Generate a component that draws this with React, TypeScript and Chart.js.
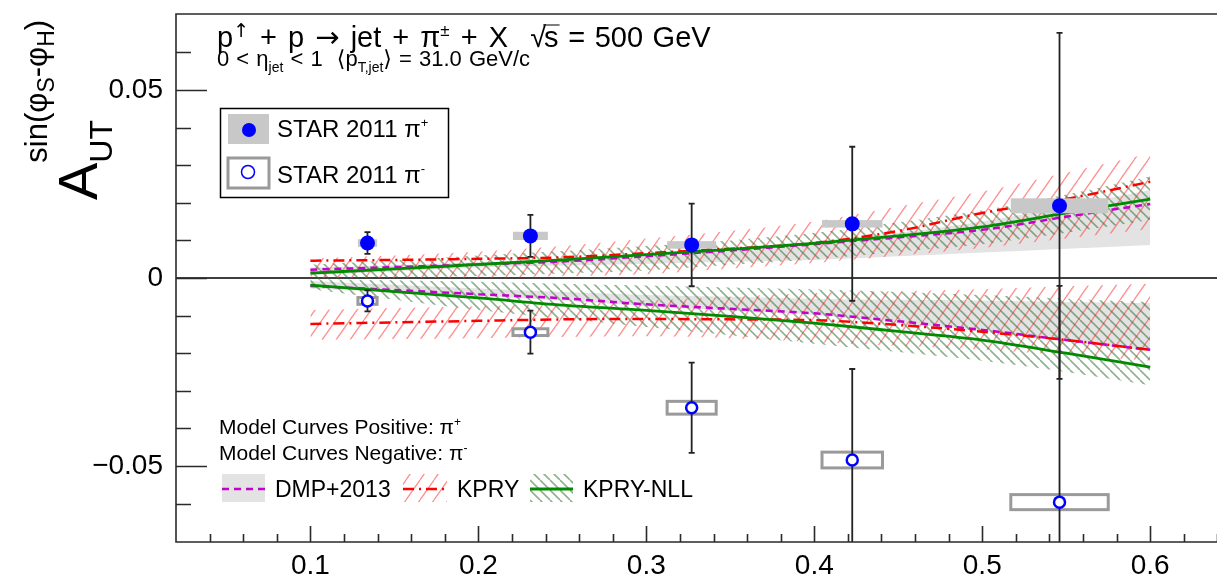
import React, { useEffect, useRef } from "react";
import { Chart, registerables } from "chart.js";

Chart.register(...registerables);

const FONT = '"Liberation Sans", "DejaVu Sans", Arial, sans-serif';
const SYM_FONT = '"DejaVu Sans", "Liberation Sans", sans-serif';

// axis ticks
const xTickValues = [0.1, 0.2, 0.3, 0.4, 0.5, 0.6];
const xTickLabels = ["0.1", "0.2", "0.3", "0.4", "0.5", "0.6"];
const yTickValues = [-0.05, 0, 0.05];
const yTickLabels = ["\u22120.05", "0", "0.05"];

// STAR 2011 data (z of pion in jet)
const zBins = [0.134, 0.231, 0.327, 0.4226, 0.546];
const zSysHalfWidth = [0.0057, 0.0104, 0.0146, 0.018, 0.029];
const piPlus = [0.0093, 0.0112, 0.0088, 0.0144, 0.0192];
const piPlusStat = [0.0029, 0.0056, 0.011, 0.0205, 0.046];
const piPlusSys = [0.0006, 0.0007, 0.0006, 0.0006, 0.0016];
const piMinus = [-0.0061, -0.0144, -0.0345, -0.0484, -0.0596];
const piMinusStat = [0.0028, 0.0057, 0.012, 0.0242, 0.0575];
const piMinusSys = [0.0009, 0.0009, 0.0017, 0.0021, 0.002];

// Model curves
const modelZ = [0.1, 0.15, 0.2, 0.25, 0.3, 0.35, 0.4, 0.45, 0.5, 0.55, 0.6];
const dmpPos = [0.0022, 0.0029, 0.0036, 0.0044, 0.0058, 0.0073, 0.009, 0.0108, 0.0128, 0.0163, 0.0197];
const dmpPosHi = [0.0028, 0.0034, 0.0042, 0.0052, 0.0065, 0.008, 0.0098, 0.012, 0.015, 0.019, 0.0234];
const dmpPosLo = [0.0008, 0.0018, 0.0028, 0.0033, 0.0038, 0.0043, 0.0048, 0.0058, 0.0068, 0.0078, 0.0088];
const dmpNeg = [-0.0021, -0.0032, -0.0043, -0.0054, -0.007, -0.0082, -0.0094, -0.0115, -0.0138, -0.0165, -0.0191];
const dmpNegHi = [-0.0008, -0.0018, -0.0028, -0.0037, -0.0045, -0.005, -0.0055, -0.0058, -0.006, -0.0064, -0.0067];
const dmpNegLo = [-0.0028, -0.0038, -0.0048, -0.006, -0.0075, -0.0087, -0.0098, -0.012, -0.0142, -0.0168, -0.0195];
const kpryPos = [0.0046, 0.0048, 0.0051, 0.0055, 0.0066, 0.0078, 0.0093, 0.0125, 0.0173, 0.021, 0.0256];
const kpryPosHi = [0.0052, 0.006, 0.007, 0.0085, 0.0105, 0.0125, 0.015, 0.019, 0.023, 0.028, 0.0332];
const kpryPosLo = [0.0, 0.0, 0.0, 0.0005, 0.001, 0.0025, 0.004, 0.006, 0.008, 0.0105, 0.013];
const kpryNeg = [-0.0122, -0.0118, -0.0114, -0.011, -0.0109, -0.011, -0.0112, -0.0125, -0.0143, -0.0165, -0.0191];
const kpryNegHi = [-0.0085, -0.008, -0.0075, -0.0068, -0.006, -0.005, -0.004, -0.0035, -0.003, -0.0022, -0.0015];
const kpryNegLo = [-0.0165, -0.0162, -0.016, -0.0157, -0.0155, -0.016, -0.017, -0.018, -0.019, -0.0205, -0.022];
const nllPos = [0.0013, 0.0024, 0.0036, 0.0048, 0.0062, 0.0076, 0.0092, 0.0112, 0.0136, 0.0173, 0.021];
const nllPosHi = [0.0035, 0.0047, 0.006, 0.0072, 0.0085, 0.01, 0.012, 0.0148, 0.018, 0.0222, 0.027];
const nllPosLo = [-0.0003, 0.0001, 0.0005, 0.0012, 0.002, 0.0035, 0.005, 0.007, 0.009, 0.012, 0.0154];
const nllNeg = [-0.0019, -0.0036, -0.0053, -0.0072, -0.0086, -0.0102, -0.012, -0.0142, -0.0165, -0.02, -0.0237];
const nllNegHi = [-0.0003, -0.0006, -0.001, -0.0015, -0.002, -0.0025, -0.003, -0.0037, -0.0045, -0.0055, -0.0064];
const nllNegLo = [-0.003, -0.0058, -0.0085, -0.0108, -0.013, -0.0152, -0.0175, -0.0197, -0.022, -0.025, -0.0285];

const GRAY_BAND = "#e3e3e3";
const MAGENTA = "#c400cc";
const RED = "#ff0000";
const GREEN = "#008a00";

type Seg = { t: string; size: number; dy?: number; f?: string };

// draws rich text; spaces are widened by `gap` px (TLatex-like spacing)
function drawRich(ctx: CanvasRenderingContext2D, x: number, y: number, segs: Seg[], gap = 0) {
  let cx = x;
  for (const s of segs) {
    ctx.font = `${s.size}px ${s.f || FONT}`;
    const parts = s.t.split(" ");
    const spw = ctx.measureText(" ").width + gap;
    parts.forEach((p, i) => {
      if (i > 0) cx += spw;
      if (p) {
        ctx.fillText(p, cx, y + (s.dy || 0));
        cx += ctx.measureText(p).width;
      }
    });
  }
  return cx;
}

function makeHatch(color: string, dir: number, w: number, h: number, lw: number) {
  const c = document.createElement("canvas");
  c.width = w;
  c.height = h;
  const g = c.getContext("2d")!;
  g.strokeStyle = color;
  g.lineWidth = lw;
  g.beginPath();
  for (let k = -1; k <= 1; k++) {
    if (dir > 0) {
      g.moveTo(k * w, h);
      g.lineTo(k * w + w, 0);
    } else {
      g.moveTo(k * w, 0);
      g.lineTo(k * w + w, h);
    }
  }
  g.stroke();
  return g.createPattern(c, "repeat")!;
}

export default function App() {
  const ref = useRef<HTMLCanvasElement | null>(null);

  useEffect(() => {
    const canvas = ref.current!;
    const redHatch = makeHatch("rgba(255,70,70,0.6)", 1, 14, 20, 1.3);
    const greenHatch = makeHatch("rgba(50,115,50,0.55)", -1, 10, 10, 1.6);

    const pts = (ys: number[]) => modelZ.map((x, i) => ({ x, y: ys[i] }));
    const band = (label: string, hi: number[], lo: number[], bg: any, order: number) => [
      {
        type: "line",
        label: label + " hi",
        data: pts(hi),
        borderColor: "rgba(0,0,0,0)",
        borderWidth: 0,
        pointRadius: 0,
        fill: "+1",
        backgroundColor: bg,
        cubicInterpolationMode: "monotone",
        order,
      },
      {
        type: "line",
        label: label + " lo",
        data: pts(lo),
        borderColor: "rgba(0,0,0,0)",
        borderWidth: 0,
        pointRadius: 0,
        fill: false,
        cubicInterpolationMode: "monotone",
        order,
      },
    ];
    const curve = (label: string, ys: number[], color: string, dash: number[], width: number, order: number) => ({
      type: "line",
      label,
      data: pts(ys),
      borderColor: color,
      borderWidth: width,
      borderDash: dash,
      pointRadius: 0,
      fill: false,
      cubicInterpolationMode: "monotone",
      order,
    });

    const datasets: any[] = [
      ...band("DMP+ band", dmpPosHi, dmpPosLo, GRAY_BAND, 12),
      ...band("DMP- band", dmpNegHi, dmpNegLo, GRAY_BAND, 12),
      ...band("KPRY+ band", kpryPosHi, kpryPosLo, redHatch, 10),
      ...band("KPRY- band", kpryNegHi, kpryNegLo, redHatch, 10),
      ...band("NLL+ band", nllPosHi, nllPosLo, greenHatch, 9),
      ...band("NLL- band", nllNegHi, nllNegLo, greenHatch, 9),
      curve("DMP+2013 +", dmpPos, MAGENTA, [7, 5], 2.5, 6),
      curve("DMP+2013 -", dmpNeg, MAGENTA, [7, 5], 2.5, 6),
      curve("KPRY +", kpryPos, RED, [11, 5, 2, 5], 2.5, 5),
      curve("KPRY -", kpryNeg, RED, [11, 5, 2, 5], 2.5, 5),
      curve("KPRY-NLL +", nllPos, GREEN, [], 2.8, 4),
      curve("KPRY-NLL -", nllNeg, GREEN, [], 2.8, 4),
      {
        type: "scatter",
        label: "STAR 2011 π-",
        data: zBins.map((x, i) => ({ x, y: piMinus[i] })),
        pointRadius: 5.5,
        borderWidth: 2.5,
        borderColor: "#0000ff",
        backgroundColor: "#ffffff",
        order: 1,
      },
      {
        type: "scatter",
        label: "STAR 2011 π+",
        data: zBins.map((x, i) => ({ x, y: piPlus[i] })),
        pointRadius: 7.5,
        borderWidth: 0,
        backgroundColor: "#0000ff",
        order: 0,
      },
    ];

    const decor = {
      id: "decor",
      beforeDatasetsDraw(chart: any) {
        const { ctx, chartArea: a, scales } = chart;
        const y0 = scales.y.getPixelForValue(0);
        ctx.save();
        ctx.strokeStyle = "#000";
        ctx.lineWidth = 1.5;
        ctx.beginPath();
        ctx.moveTo(a.left, y0);
        ctx.lineTo(a.right, y0);
        ctx.stroke();
        ctx.restore();
      },
      beforeDatasetDraw(chart: any, args: any) {
        if (chart.data.datasets[args.index].label !== "STAR 2011 π-") return;
        const { ctx, chartArea: a, scales } = chart;
        const X = (v: number) => scales.x.getPixelForValue(v);
        const Y = (v: number) => scales.y.getPixelForValue(v);
        ctx.save();
        ctx.beginPath();
        ctx.rect(a.left, a.top, a.right - a.left, a.bottom - a.top);
        ctx.clip();
        // systematic boxes
        zBins.forEach((z, i) => {
          const x1 = X(z - zSysHalfWidth[i]);
          const x2 = X(z + zSysHalfWidth[i]);
          const yp1 = Y(piPlus[i] + piPlusSys[i]);
          const yp2 = Y(piPlus[i] - piPlusSys[i]);
          ctx.fillStyle = "#c8c8c8";
          ctx.fillRect(x1, yp1 - 1.5, x2 - x1, yp2 - yp1 + 3);
          const ym1 = Y(piMinus[i] + piMinusSys[i]);
          const ym2 = Y(piMinus[i] - piMinusSys[i]);
          ctx.fillStyle = "#ffffff";
          ctx.fillRect(x1, ym1, x2 - x1, ym2 - ym1);
          ctx.strokeStyle = "#9a9a9a";
          ctx.lineWidth = 3;
          ctx.strokeRect(x1, ym1, x2 - x1, ym2 - ym1);
        });
        // statistical error bars
        ctx.strokeStyle = "#222";
        ctx.lineWidth = 1.8;
        const bar = (x: number, v: number, e: number) => {
          const t = Y(v + e);
          const b = Y(v - e);
          ctx.beginPath();
          ctx.moveTo(x, t);
          ctx.lineTo(x, b);
          ctx.moveTo(x - 3, t);
          ctx.lineTo(x + 3, t);
          ctx.moveTo(x - 3, b);
          ctx.lineTo(x + 3, b);
          ctx.stroke();
        };
        zBins.forEach((z, i) => {
          bar(X(z), piPlus[i], piPlusStat[i]);
          bar(X(z), piMinus[i], piMinusStat[i]);
        });
        ctx.restore();
      },
      afterDraw(chart: any) {
        const { ctx, chartArea: a, scales } = chart;
        const X = (v: number) => scales.x.getPixelForValue(v);
        const Y = (v: number) => scales.y.getPixelForValue(v);
        ctx.save();
        // frame
        ctx.strokeStyle = "#2a2a2a";
        ctx.lineWidth = 1.6;
        ctx.beginPath();
        ctx.moveTo(a.right + 5, a.top);
        ctx.lineTo(a.left, a.top);
        ctx.lineTo(a.left, a.bottom);
        ctx.lineTo(a.right + 5, a.bottom);
        ctx.stroke();
        // y ticks
        ctx.beginPath();
        for (let k = -6; k <= 6; k++) {
          const v = k / 100;
          const py = Math.round(Y(v)) + 0.5;
          const len = k % 5 === 0 ? 31 : 15;
          ctx.moveTo(a.left, py);
          ctx.lineTo(a.left + len, py);
        }
        // x ticks
        for (let k = 2; k <= 32; k++) {
          const v = k * 0.02;
          const px = Math.round(X(v)) + 0.5;
          const len = k % 5 === 0 ? 16 : 8;
          ctx.moveTo(px, a.bottom);
          ctx.lineTo(px, a.bottom - len);
        }
        ctx.stroke();

        ctx.fillStyle = "#000";
        ctx.textBaseline = "alphabetic";
        ctx.textAlign = "left";

        // y axis title
        ctx.save();
        ctx.translate(97, 200);
        ctx.rotate(-Math.PI / 2);
        ctx.font = `56px ${FONT}`;
        ctx.fillText("A", 0, 0);
        const aw = ctx.measureText("A").width;
        ctx.font = `32px ${FONT}`;
        ctx.fillText("UT", aw, 15);
        drawRich(ctx, aw, -50, [
          { t: "sin(φ", size: 31 },
          { t: "S", size: 23, dy: 7 },
          { t: "-φ", size: 31 },
          { t: "H", size: 23, dy: 7 },
          { t: ")", size: 31 },
        ]);
        ctx.restore();

        // title
        let cx = drawRich(
          ctx,
          217,
          47,
          [
            { t: "p", size: 29 },
            { t: "↑", size: 19, dy: -10, f: SYM_FONT },
            { t: " + p ", size: 29 },
            { t: "→", size: 29, f: SYM_FONT },
            { t: " jet + π", size: 29 },
            { t: "±", size: 17, dy: -11 },
            { t: " + X  ", size: 29 },
          ],
          3
        );
        ctx.font = `29px ${FONT}`;
        ctx.fillText("√", cx, 47);
        cx += ctx.measureText("√").width - 2;
        const sw = ctx.measureText("s").width;
        ctx.fillText("s", cx, 47);
        ctx.lineWidth = 1.2;
        ctx.beginPath();
        ctx.moveTo(cx - 1, 25);
        ctx.lineTo(cx + sw + 1, 25);
        ctx.stroke();
        cx += sw;
        drawRich(ctx, cx, 47, [{ t: " = 500 GeV", size: 29 }], 1.5);

        drawRich(
          ctx,
          217,
          66,
          [
            { t: "0 < η", size: 22 },
            { t: "jet", size: 14, dy: 6 },
            { t: " < 1  ", size: 22 },
            { t: "⟨", size: 22, f: SYM_FONT },
            { t: "p", size: 22 },
            { t: "T,jet", size: 14, dy: 6 },
            { t: "⟩", size: 22, f: SYM_FONT },
            { t: " = 31.0 GeV/c", size: 22 },
          ],
          1
        );

        // legend 1
        ctx.lineWidth = 1.5;
        ctx.strokeStyle = "#000";
        ctx.strokeRect(220.5, 108.5, 228, 89);
        ctx.fillStyle = "#c8c8c8";
        ctx.fillRect(228, 114, 41, 30);
        ctx.fillStyle = "#0000ff";
        ctx.beginPath();
        ctx.arc(249, 130, 7, 0, Math.PI * 2);
        ctx.fill();
        ctx.fillStyle = "#fff";
        ctx.fillRect(228, 158, 41, 30);
        ctx.strokeStyle = "#9a9a9a";
        ctx.lineWidth = 3;
        ctx.strokeRect(228, 158, 41, 30);
        ctx.strokeStyle = "#0000ff";
        ctx.lineWidth = 1.5;
        ctx.beginPath();
        ctx.arc(248, 172, 6.5, 0, Math.PI * 2);
        ctx.stroke();
        ctx.fillStyle = "#000";
        drawRich(ctx, 277, 137, [
          { t: "STAR 2011 π", size: 24 },
          { t: "+", size: 13, dy: -10 },
        ]);
        drawRich(ctx, 277, 183, [
          { t: "STAR 2011 π", size: 24 },
          { t: "-", size: 13, dy: -10 },
        ]);

        // model text
        drawRich(ctx, 219, 434, [
          { t: "Model Curves Positive: π", size: 21 },
          { t: "+", size: 12, dy: -8 },
        ]);
        drawRich(ctx, 219, 460, [
          { t: "Model Curves Negative: π", size: 21 },
          { t: "-", size: 12, dy: -8 },
        ]);

        // legend 2
        ctx.fillStyle = GRAY_BAND;
        ctx.fillRect(222, 474, 43, 28);
        ctx.strokeStyle = MAGENTA;
        ctx.lineWidth = 2.5;
        ctx.setLineDash([7, 5]);
        ctx.beginPath();
        ctx.moveTo(222, 489);
        ctx.lineTo(265, 489);
        ctx.stroke();
        ctx.fillStyle = redHatch;
        ctx.fillRect(403, 474, 44, 28);
        ctx.strokeStyle = RED;
        ctx.setLineDash([11, 5, 2, 5]);
        ctx.beginPath();
        ctx.moveTo(403, 489);
        ctx.lineTo(447, 489);
        ctx.stroke();
        ctx.fillStyle = greenHatch;
        ctx.fillRect(530, 474, 43, 28);
        ctx.strokeStyle = GREEN;
        ctx.lineWidth = 2.8;
        ctx.setLineDash([]);
        ctx.beginPath();
        ctx.moveTo(530, 489);
        ctx.lineTo(573, 489);
        ctx.stroke();
        ctx.fillStyle = "#000";
        ctx.font = `23px ${FONT}`;
        ctx.fillText("DMP+2013", 275, 497);
        ctx.fillText("KPRY", 457, 497);
        ctx.fillText("KPRY-NLL", 583, 497);
        ctx.restore();
      },
    };

    const chart = new Chart(canvas, {
      type: "line",
      data: { datasets },
      options: {
        animation: false,
        responsive: true,
        maintainAspectRatio: false,
        devicePixelRatio: 1,
        events: [],
        layout: { padding: { left: 8, top: 14, right: 9, bottom: 0 } },
        plugins: { legend: { display: false }, tooltip: { enabled: false } },
        scales: {
          x: {
            type: "linear",
            min: 0.02,
            max: 0.66,
            grid: { display: false, drawTicks: false },
            border: { display: false },
            afterFit: (s: any) => {
              s.height = 36;
              s.paddingLeft = 0;
              s.paddingRight = 0;
            },
            afterBuildTicks: (s: any) => {
              s.ticks = xTickValues.map((value) => ({ value }));
            },
            ticks: {
              autoSkip: false,
              maxRotation: 0,
              padding: 7,
              color: "#000",
              font: { family: FONT, size: 28 },
              callback: (v: any) => {
                const i = xTickValues.findIndex((t) => Math.abs(t - v) < 1e-9);
                return i >= 0 ? xTickLabels[i] : "";
              },
            },
          },
          y: {
            type: "linear",
            min: -0.0702,
            max: 0.0702,
            grid: { display: false, drawTicks: false },
            border: { display: false },
            afterFit: (s: any) => {
              s.width = 168;
              s.paddingTop = 0;
              s.paddingBottom = 0;
            },
            afterBuildTicks: (s: any) => {
              s.ticks = yTickValues.map((value) => ({ value }));
            },
            ticks: {
              autoSkip: false,
              padding: 13,
              color: "#000",
              font: { family: FONT, size: 28 },
              callback: (v: any) => {
                const i = yTickValues.findIndex((t) => Math.abs(t - v) < 1e-9);
                return i >= 0 ? yTickLabels[i] : "";
              },
            },
          },
        },
      },
      plugins: [decor],
    } as any);

    return () => chart.destroy();
  }, []);

  return (
    <div style={{ position: "fixed", left: 0, top: 0, width: 1217, height: 578, overflow: "hidden", background: "#fff" }}>
      <div style={{ position: "relative", width: 1260, height: 578 }}>
        <canvas ref={ref} />
      </div>
    </div>
  );
}
